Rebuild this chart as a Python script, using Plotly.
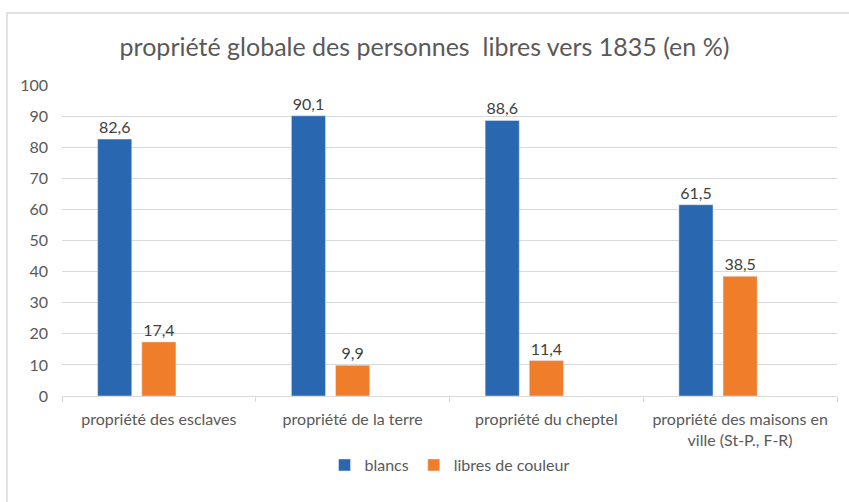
import plotly.graph_objects as go

categories = ["propriété des esclaves", "propriété de la terre", "propriété du cheptel",
              "propriété des maisons en<br>ville (St-P., F-R)"]
blancs = [82.6, 90.1, 88.6, 61.5]
libres = [17.4, 9.9, 11.4, 38.5]
empty_series = [None, None, None, None]
y_ticks = [0, 10, 20, 30, 40, 50, 60, 70, 80, 90, 100]

FONT = "Lato"
FS = 16
fig = go.Figure()
fig.add_bar(x=categories, y=blancs, name="blancs", marker_color="#2A67B1",
            texttemplate="%{y:.1f}", textposition="outside",
            textfont=dict(size=FS, color="#404040"), cliponaxis=False)
fig.add_bar(x=categories, y=libres, name="libres de couleur", marker_color="#F07D2A",
            texttemplate="%{y:.1f}", textposition="outside",
            textfont=dict(size=FS, color="#404040"), cliponaxis=False)
fig.add_bar(x=categories, y=empty_series, name="", showlegend=False, marker_color="#A5A5A5")

fig.update_layout(
    width=849, height=502,
    margin=dict(l=62, r=12, t=85, b=106),
    paper_bgcolor="white", plot_bgcolor="white",
    separators=", ",
    font=dict(family=FONT, color="#595959", size=FS),
    title=dict(text="propriété globale des personnes  libres vers 1835 (en %)",
               x=0.5, xanchor="center", y=0.905, yanchor="middle",
               font=dict(size=25, color="#595959", family=FONT)),
    barmode="group", bargap=0.316, bargroupgap=0.227,
    legend=dict(orientation="h", x=0.5, xanchor="center", y=-0.222, yanchor="middle",
                font=dict(size=FS, color="#595959"), itemwidth=30, traceorder="normal"),
    xaxis=dict(showline=True, linecolor="#D9D9D9", linewidth=1, ticks="outside",
               tickson="boundaries", ticklen=5, tickcolor="#D9D9D9", ticklabelstandoff=9,
               tickfont=dict(size=FS, color="#595959")),
    yaxis=dict(range=[0, 100], tickvals=y_ticks, showgrid=True, gridcolor="#D9D9D9",
               zeroline=False, showline=False, ticks="", ticklabelstandoff=13,
               tickfont=dict(size=FS, color="#595959")),
    shapes=[dict(type="rect", xref="paper", yref="paper",
                 x0=(7 - 62) / 775, x1=1.05, y0=-0.5, y1=(396 - 13) / 311,
                 line=dict(color="#D9D9D9", width=1.5), fillcolor="rgba(0,0,0,0)", layer="below")],
)
fig.write_html("out.html", config={"displayModeBar": False},
               post_script="document.body.style.margin='0';")
